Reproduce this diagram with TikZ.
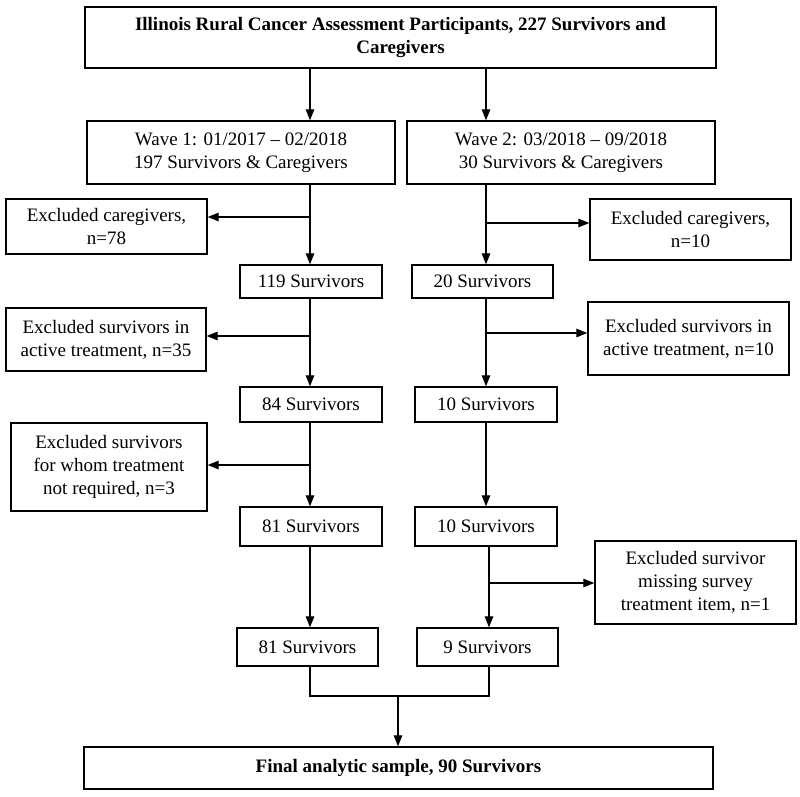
\documentclass[tikz,border=0pt]{standalone}
\usepackage{fontspec}
\setmainfont{Liberation Serif}
\usetikzlibrary{arrows.meta}
\begin{document}
\begin{tikzpicture}[x=1pt,y=-1pt,
  box/.style={draw, line width=1.3pt, align=center, inner sep=2pt,
    font=\fontsize{19}{23}\selectfont},
  arr/.style={line width=1.2pt, -{Triangle[length=11pt,width=8.5pt]}},
  ln/.style={line width=1.2pt}]
\useasboundingbox (0,0) rectangle (800,796);
\fill[white] (0,0) rectangle (800,796);
\node[box, minimum width=631pt, minimum height=61pt, font=\bfseries\fontsize{19}{23}\selectfont] (top) at (400.5,37.5) {Illinois Rural Cancer Assessment Participants, 227 Survivors and\\Caregivers};
\node[box, minimum width=308pt, minimum height=63pt] (w1) at (241,152.5) {Wave 1: 01/2017 – 02/2018\\197 Survivors \& Caregivers};
\node[box, minimum width=308pt, minimum height=63pt] (w2) at (561,152.5) {Wave 2: 03/2018 – 09/2018\\30 Survivors \& Caregivers};
\node[box, minimum width=201pt, minimum height=55pt] (exc1) at (106.5,226.5) {Excluded caregivers,\\n=78};
\node[box, minimum width=201pt, minimum height=61pt] (exc2) at (690.5,229.5) {Excluded caregivers,\\n=10};
\node[box, minimum width=142pt, minimum height=33pt] (s119) at (311,281.5) {119 Survivors};
\node[box, minimum width=141pt, minimum height=33pt] (s20) at (482.5,281.5) {20 Survivors};
\node[box, minimum width=200pt, minimum height=63pt] (exc3) at (106,339.5) {Excluded survivors in\\active treatment, n=35};
\node[box, minimum width=201pt, minimum height=73pt] (exc4) at (688.5,338.5) {Excluded survivors in\\active treatment, n=10};
\node[box, minimum width=142pt, minimum height=35pt] (s84) at (311,404.5) {84 Survivors};
\node[box, minimum width=142pt, minimum height=35pt] (s10a) at (486,404.5) {10 Survivors};
\node[box, minimum width=196pt, minimum height=88pt] (exc5) at (109,467) {Excluded survivors\\for whom treatment\\not required, n=3};
\node[box, minimum width=142pt, minimum height=39pt] (s81a) at (311,526.5) {81 Survivors};
\node[box, minimum width=142pt, minimum height=39pt] (s10b) at (486,526.5) {10 Survivors};
\node[box, minimum width=201pt, minimum height=83pt] (exc6) at (695.5,582.5) {Excluded survivor\\missing survey\\treatment item, n=1};
\node[box, minimum width=141pt, minimum height=38pt] (s81b) at (307.5,647) {81 Survivors};
\node[box, minimum width=141pt, minimum height=38pt] (s9) at (487.5,647) {9 Survivors};
\node[box, minimum width=629pt, minimum height=42pt, font=\bfseries\fontsize{19}{23}\selectfont] (final) at (398.5,768) {Final analytic sample, 90 Survivors};
% columns
\coordinate (cL) at (310,0);
\coordinate (cR) at (486,0);
\coordinate (cR2) at (489,0);
\draw[arr] (top.south -| cL) -- (w1.north -| cL);
\draw[arr] (top.south -| cR) -- (w2.north -| cR);
\draw[arr] (w1.south -| cL) -- (s119.north -| cL);
\draw[arr] (w2.south -| cR) -- (s20.north -| cR);
\coordinate (b1) at (310,217);
\draw[arr] (b1) -- (b1 -| exc1.east);
\coordinate (b2) at (486,223);
\draw[arr] (b2) -- (b2 -| exc2.west);
\draw[arr] (s119.south -| cL) -- (s84.north -| cL);
\draw[arr] (s20.south -| cR) -- (s10a.north -| cR);
\coordinate (b3) at (310,336);
\draw[arr] (b3) -- (b3 -| exc3.east);
\coordinate (b4) at (486,333);
\draw[arr] (b4) -- (b4 -| exc4.west);
\draw[arr] (s84.south -| cL) -- (s81a.north -| cL);
\draw[arr] (s10a.south -| cR) -- (s10b.north -| cR);
\coordinate (b5) at (310,465);
\draw[arr] (b5) -- (b5 -| exc5.east);
\draw[arr] (s81a.south -| cL) -- (s81b.north -| cL);
\draw[arr] (s10b.south -| cR2) -- (s9.north -| cR2);
\coordinate (b6) at (489,583);
\draw[arr] (b6) -- (b6 -| exc6.west);
\coordinate (j) at (398,696);
\draw[ln] (s81b.south -| cL) -- (cL |- j) -- (cR2 |- j) -- (s9.south -| cR2);
\draw[arr] (j) -- (final.north -| j);
\end{tikzpicture}
\end{document}
